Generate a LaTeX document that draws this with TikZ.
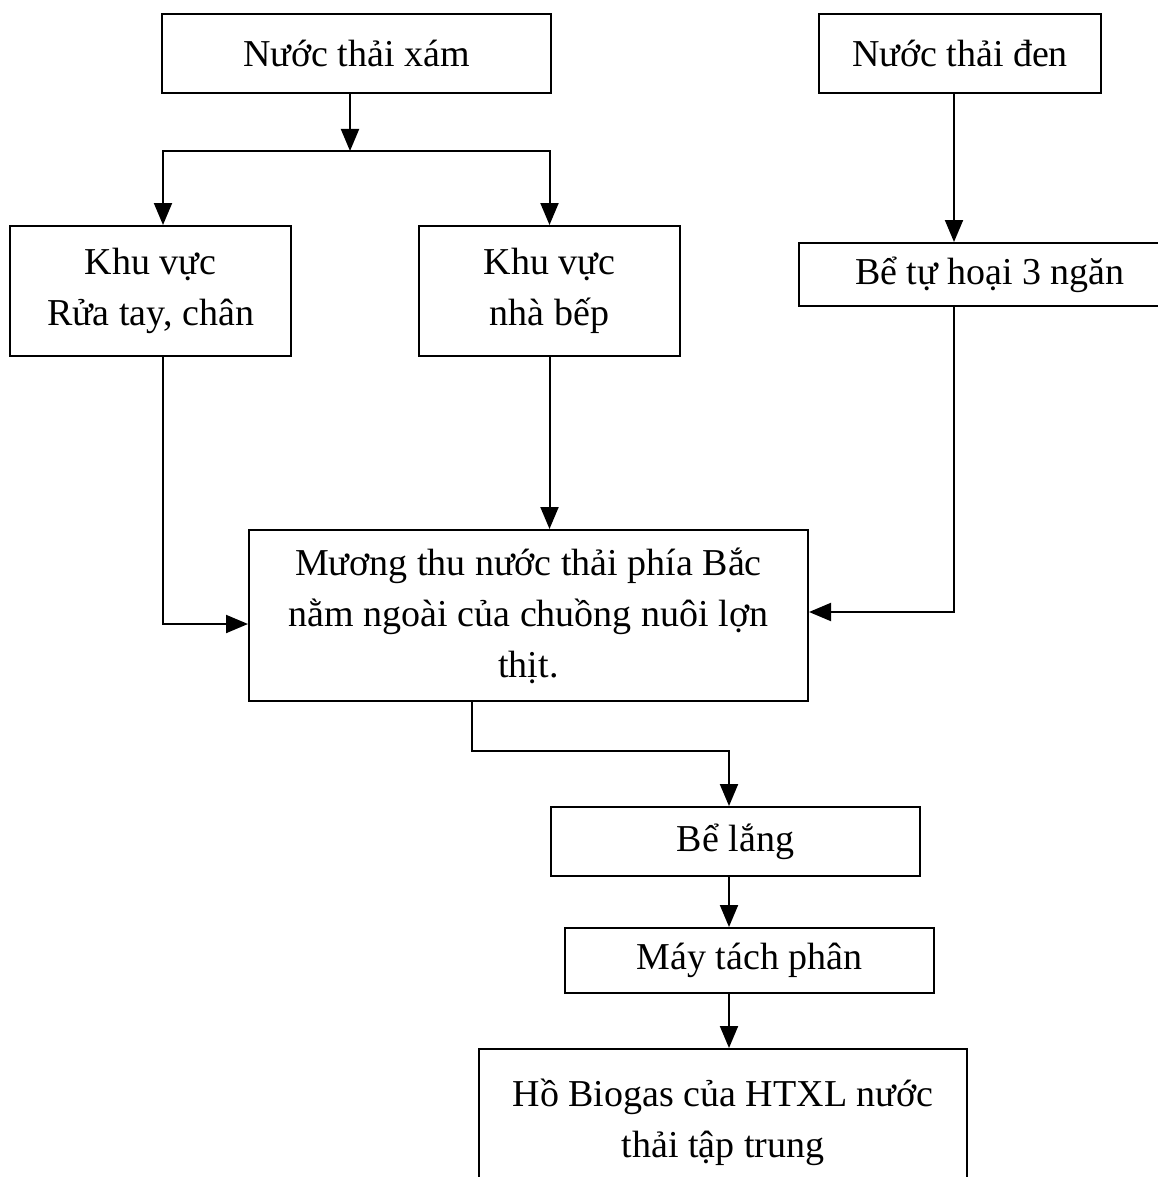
\documentclass[tikz,border=0pt]{standalone}
\usepackage{fontspec}
\setmainfont{Liberation Serif}
\usetikzlibrary{arrows.meta,positioning}

\begin{document}
\begin{tikzpicture}[x=0.5pt, y=-0.5pt,
    block/.style={rectangle, draw, line width=1pt, align=center, inner sep=0pt,
        font=\fontsize{19}{25.5}\selectfont},
    arrow/.style={-{Triangle[width=9pt,length=11pt]}, line width=1pt}]

    \fill[white] (0,0) rectangle (1157,1177);
    \useasboundingbox (0,0) rectangle (1157,1177);

    \node[block, minimum width=194.5pt, minimum height=39.5pt] (xam) at (356.5,53.5) {Nước thải xám};
    \node[block, minimum width=141pt, minimum height=39.5pt] (den) at (960,53.5) {Nước thải đen};
    \node[block, minimum width=140.5pt, minimum height=65pt] (rua) at (150.5,291) {Khu vực\\Rửa tay, chân};
    \node[block, minimum width=130.5pt, minimum height=65pt] (bep) at (549.5,291) {Khu vực\\nhà bếp};
    \node[block, minimum width=191pt, minimum height=31.5pt] (tuhoai) at (990,274.5) {Bể tự hoại 3 ngăn};
    \node[block, minimum width=279.5pt, minimum height=85.5pt] (muong) at (528.5,615.5)
        {Mương thu nước thải phía Bắc\\nằm ngoài của chuồng nuôi lợn\\thịt.};
    \node[block, minimum width=184.5pt, minimum height=34.5pt] (lang) at (735.5,841.5) {Bể lắng};
    \node[block, minimum width=184.5pt, minimum height=32.5pt] (may) at (749.5,960.5) {Máy tách phân};
    \node[block, minimum width=244pt, minimum height=73pt] (ho) at (723,1122) {Hồ Biogas của HTXL nước\\thải tập trung};

    \coordinate (split) at (350,151);

    \draw[arrow] (xam.south -| split) -- (split);
    \draw[arrow] (split) -| ([xshift=6.25pt]rua.north);
    \draw[arrow] (split) -| (bep.north);
    \draw[arrow] ([xshift=-3pt]den.south) -- ([xshift=-3pt]den.south |- tuhoai.north);
    \draw[arrow] ([xshift=6.25pt]rua.south) |- ([yshift=-4.25pt]muong.west);
    \draw[arrow] (bep.south) -- (bep.south |- muong.north);
    \draw[arrow] ([xshift=-18pt]tuhoai.south) |- ([yshift=1.75pt]muong.east);
    \draw[arrow] ([xshift=-28.25pt]muong.south) -- ++(0,49) -| ([xshift=-3.25pt]lang.north);
    \draw[arrow] ([xshift=-3.25pt]lang.south) -- ([xshift=-3.25pt]lang.south |- may.north);
    \draw[arrow] ([xshift=-10.25pt]may.south) -- ([xshift=-10.25pt]may.south |- ho.north);
\end{tikzpicture}
\end{document}
